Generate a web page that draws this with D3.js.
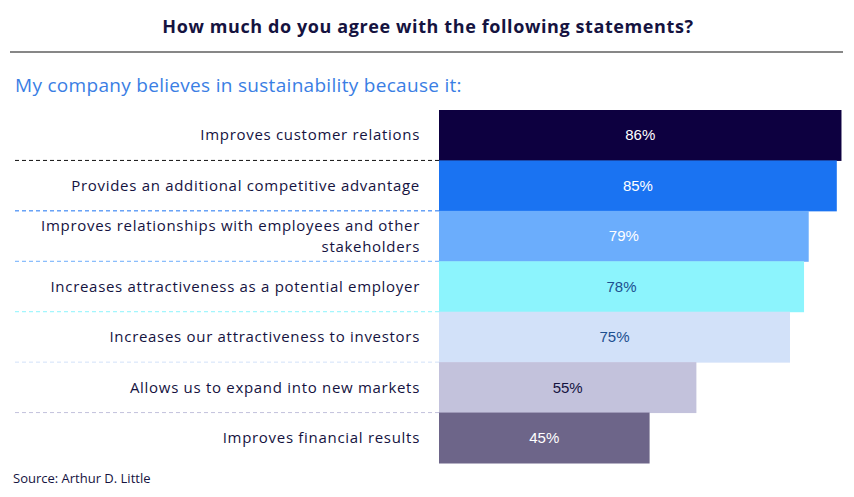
<!DOCTYPE html>
<html>
<head>
<meta charset="utf-8">
<script src="https://cdn.jsdelivr.net/npm/d3@7"></script>
<style>
  body { margin: 0; background: #fff; }
</style>
</head>
<body>
<svg id="chart"></svg>
<script>
// chart data
const statements = [
    "Improves customer relations",
    "Provides an additional competitive advantage",
    "Improves relationships with employees and other|stakeholders",
    "Increases attractiveness as a potential employer",
    "Increases our attractiveness to investors",
    "Allows us to expand into new markets",
    "Improves financial results"
];
const shares = [86, 85, 79, 78, 75, 55, 45];
const barColors = ["#0d0040", "#1a73f2", "#6badfc", "#8cf4fd", "#d2e1f9", "#c3c2dc", "#6d6589"];
const labelColors = ["#ffffff", "#ffffff", "#ffffff", "#1d4f8f", "#1d4f8f", "#15133f", "#ffffff"];

let width = 854, height = 497;
let margin = { top: 110, bottom: 34, left: 439, right: 12 };
const font = '"Open Sans", sans-serif';

let svg = d3.select('#chart')
    .attr('width', width)
    .attr('height', height);

// title + rule
svg.append('text')
    .attr('x', 428)
    .attr('y', 33)
    .attr('text-anchor', 'middle')
    .style('font-family', font)
    .style('font-weight', 'bold')
    .style('font-size', '18px')
    .style('letter-spacing', '0.6px')
    .style('fill', '#15133f')
    .text('How much do you agree with the following statements?');

svg.append('line')
    .attr('x1', 10).attr('x2', 843)
    .attr('y1', 52).attr('y2', 52)
    .attr('stroke', '#111')
    .attr('stroke-width', 1.2);

svg.append('text')
    .attr('x', 15)
    .attr('y', 92)
    .style('font-family', font)
    .style('font-size', '19px')
    .style('letter-spacing', '0.3px')
    .style('fill', '#3a7ee4')
    .text('My company believes in sustainability because it:');

// scales
let yScale = d3.scaleBand()
    .domain(statements)
    .range([margin.top, 463])
    .padding(0);

let xScale = d3.scaleLinear()
    .domain([0, 100])
    .range([margin.left, margin.left + 468]);

// dashed separators, coloured like the bar above
statements.slice(0, -1).forEach((s, i) => {
    let yy = yScale(s) + yScale.bandwidth();
    svg.append('line')
        .attr('x1', 15).attr('x2', margin.left)
        .attr('y1', yy).attr('y2', yy)
        .attr('stroke', i === 0 ? '#111' : barColors[i])
        .attr('stroke-width', 1)
        .attr('stroke-dasharray', '4,3');
});

// bars
svg.selectAll('rect.bar')
    .data(shares)
    .enter()
    .append('rect')
    .attr('class', 'bar')
    .attr('x', xScale(0))
    .attr('y', (d, i) => yScale(statements[i]))
    .attr('width', d => xScale(d) - xScale(0))
    .attr('height', yScale.bandwidth() + 0.5)
    .attr('fill', (d, i) => barColors[i]);

// value labels
svg.selectAll('text.val')
    .data(shares)
    .enter()
    .append('text')
    .attr('class', 'val')
    .attr('x', d => (xScale(0) + xScale(d)) / 2)
    .attr('y', (d, i) => yScale(statements[i]) + yScale.bandwidth() / 2)
    .attr('dy', '0.35em')
    .attr('text-anchor', 'middle')
    .style('font-family', '"Liberation Sans", Arial, sans-serif')
    .style('font-size', '15px')
    .style('fill', (d, i) => labelColors[i])
    .text(d => d + '%');

// category labels (| marks a line break), one text per line
statements.forEach(s => {
    let lines = s.split('|');
    let cy = yScale(s) + yScale.bandwidth() / 2;
    lines.forEach((l, j) => {
        svg.append('text')
            .attr('x', 420)
            .attr('y', cy + (j - (lines.length - 1) / 2) * 21)
            .attr('dy', '0.35em')
            .attr('text-anchor', 'end')
            .style('font-family', font)
            .style('font-size', '15px')
            .style('letter-spacing', '0.7px')
            .style('fill', '#15133f')
            .text(l);
    });
});

// source
svg.append('text')
    .attr('x', 13)
    .attr('y', 483)
    .style('font-family', font)
    .style('font-size', '13px')
    .style('fill', '#15133f')
    .text('Source: Arthur D. Little');
</script>
</body>
</html>
